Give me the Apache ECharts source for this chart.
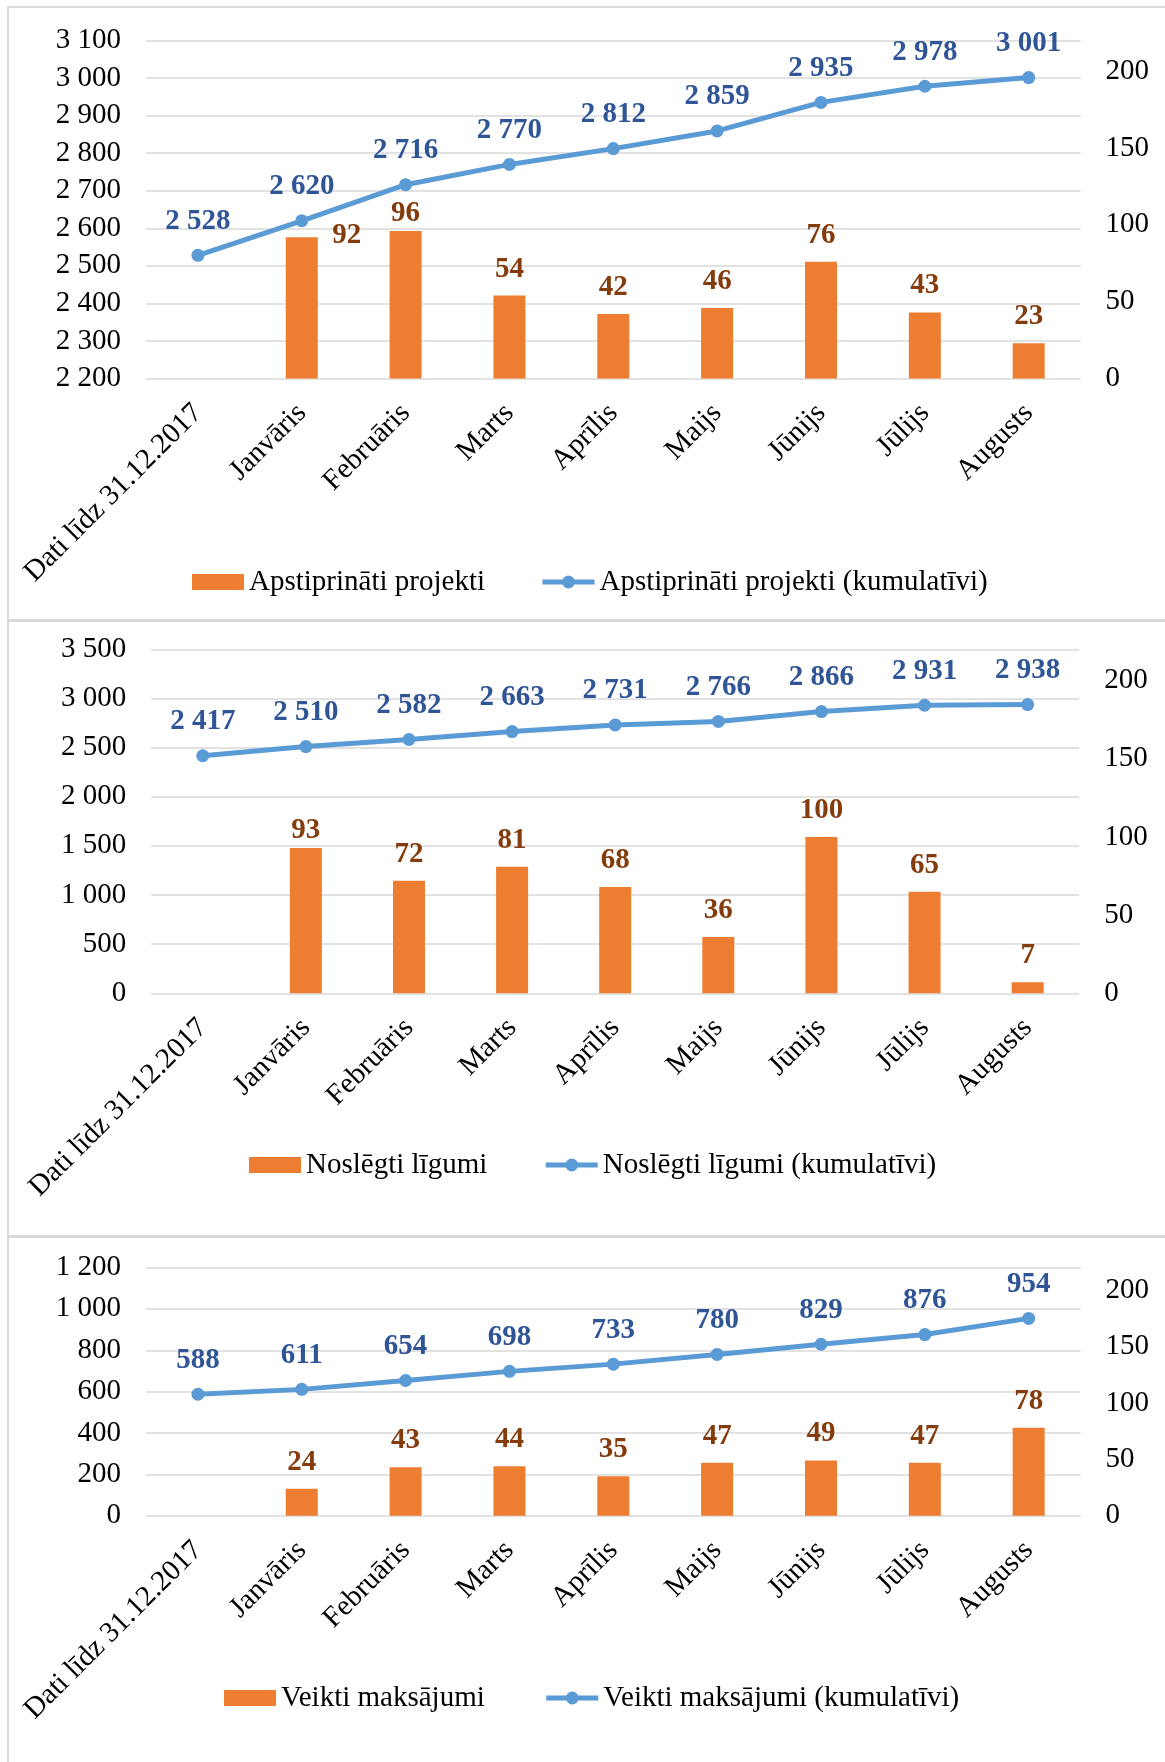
<!DOCTYPE html>
<html>
<head>
<meta charset="utf-8">
<title>Projekti, līgumi, maksājumi</title>
<script src="https://cdn.jsdelivr.net/npm/echarts@6/dist/echarts.min.js"></script>
<style>
  html, body { margin: 0; padding: 0; background: #fff; }
  .page { position: relative; width: 1165px; height: 1762px; overflow: hidden; }
  .frame { position: absolute; background: #d9d9d9; }
  .chart { position: absolute; left: 0; width: 1165px; }
</style>
</head>
<body>
<div class="page">
  <!-- panel frames -->
  <div class="frame" style="left:7px;top:6px;width:1158px;height:2px"></div>
  <div class="frame" style="left:7px;top:6px;width:2px;height:1756px"></div>
  <div class="frame" style="left:7px;top:619px;width:1158px;height:3px"></div>
  <div class="frame" style="left:7px;top:1235px;width:1158px;height:3px"></div>

  <div class="chart" id="chartProjects" style="top:0;height:619px"></div>
  <div class="chart" id="chartContracts" style="top:621px;height:614px"></div>
  <div class="chart" id="chartPayments" style="top:1237px;height:525px"></div>
</div>
<script>
// kategorijas
const categories = ['Dati līdz 31.12.2017', 'Janvāris', 'Februāris', 'Marts', 'Aprīlis', 'Maijs', 'Jūnijs', 'Jūlijs', 'Augusts'];

// apstiprināti projekti
const projectsMonthly = [null, 92, 96, 54, 42, 46, 76, 43, 23];
const projectsCumulative = [2528, 2620, 2716, 2770, 2812, 2859, 2935, 2978, 3001];
const projectsTicks = [2200, 3100, 100]; // min, max, step

// noslēgti līgumi
const contractsMonthly = [null, 93, 72, 81, 68, 36, 100, 65, 7];
const contractsCumulative = [2417, 2510, 2582, 2663, 2731, 2766, 2866, 2931, 2938];
const contractsTicks = [0, 3500, 500];

// veikti maksājumi
const paymentsMonthly = [null, 24, 43, 44, 35, 47, 49, 47, 78];
const paymentsCumulative = [588, 611, 654, 698, 733, 780, 829, 876, 954];
const paymentsTicks = [0, 1200, 200];

// labā ass (mēneša skaits)
const rightTicks = [0, 50, 100, 150, 200];
const rightMax = 220;

const FONT = '"Liberation Serif", "Times New Roman", serif';
const ORANGE = '#ed7d31';
const BLUE = '#5b9bd5';

function thousands(v) {
  return String(v).replace(/\B(?=(\d{3})+(?!\d))/g, ' ');
}

function buildOption(cfg) {
  const shifts = cfg.labelShift || {};
  return {
    animation: false,
    textStyle: { fontFamily: FONT },
    grid: {
      left: cfg.grid[0], top: cfg.grid[1], width: cfg.grid[2], height: cfg.grid[3],
      outerBoundsMode: 'none'
    },
    legend: {
      left: cfg.legend[0], top: cfg.legend[1], itemGap: cfg.legend[2],
      padding: 0,
      itemWidth: 52, itemHeight: 16,
      lineStyle: { width: 5 },
      textStyle: { fontSize: 29, color: '#000', fontFamily: FONT },
      data: [{ name: cfg.barName, icon: 'rect' }, { name: cfg.lineName }]
    },
    xAxis: {
      type: 'category',
      data: categories,
      axisLine: { show: false },
      axisTick: { show: false },
      axisLabel: { rotate: 45, interval: 0, margin: 30, color: '#000', fontSize: 29, fontFamily: FONT }
    },
    yAxis: [
      {
        type: 'value',
        min: cfg.ticks[0], max: cfg.ticks[1], interval: cfg.ticks[2],
        axisLine: { show: false }, axisTick: { show: false },
        axisLabel: { margin: 25, color: '#000', fontSize: 29, fontFamily: FONT, formatter: thousands },
        splitLine: { lineStyle: { color: '#d9d9d9', width: 1.5 } }
      },
      {
        type: 'value', position: 'right',
        min: 0, max: rightMax, interval: rightTicks[1] - rightTicks[0],
        axisLine: { show: false }, axisTick: { show: false },
        axisLabel: {
          margin: 25, color: '#000', fontSize: 29, fontFamily: FONT,
          formatter: function (v) { return rightTicks.indexOf(v) >= 0 ? String(v) : ''; }
        },
        splitLine: { show: false }
      }
    ],
    series: [
      {
        name: cfg.barName,
        type: 'bar',
        yAxisIndex: 1,
        barWidth: 32,
        data: cfg.monthly,
        itemStyle: { color: ORANGE },
        label: {
          show: true, position: 'top', distance: 12,
          color: '#843c0c', fontWeight: 'bold', fontSize: 29, fontFamily: FONT
        },
        // a few labels were nudged by hand in the original
        labelLayout: function (params) {
          const s = shifts[params.dataIndex];
          if (!s) return {};
          const r = params.labelRect;
          return {
            x: r.x + r.width / 2 + s[0],
            y: r.y + r.height / 2 + s[1],
            align: 'center',
            verticalAlign: 'middle'
          };
        }
      },
      {
        name: cfg.lineName,
        type: 'line',
        yAxisIndex: 0,
        data: cfg.cumulative,
        symbol: 'circle',
        symbolSize: 13,
        lineStyle: { color: BLUE, width: 5 },
        itemStyle: { color: BLUE },
        label: {
          show: true, position: 'top', distance: 13,
          color: '#2f5597', fontWeight: 'bold', fontSize: 29, fontFamily: FONT,
          formatter: function (p) { return thousands(p.value); }
        }
      }
    ]
  };
}

const projectsChart = echarts.init(document.getElementById('chartProjects'));
projectsChart.setOption(buildOption({
  barName: 'Apstiprināti projekti',
  lineName: 'Apstiprināti projekti (kumulatīvi)',
  monthly: projectsMonthly,
  cumulative: projectsCumulative,
  ticks: projectsTicks,
  grid: [146, 40.4, 934.6, 338.2],
  legend: [192, 567.5, 55],
  labelShift: { 1: [45, 25], 2: [0, 9] }
}));

const contractsChart = echarts.init(document.getElementById('chartContracts'));
contractsChart.setOption(buildOption({
  barName: 'Noslēgti līgumi',
  lineName: 'Noslēgti līgumi (kumulatīvi)',
  monthly: contractsMonthly,
  cumulative: contractsCumulative,
  ticks: contractsTicks,
  grid: [151.2, 28.3, 928, 344],
  legend: [249, 529.5, 56],
  labelShift: { 1: [0, 9] }
}));

const paymentsChart = echarts.init(document.getElementById('chartPayments'));
paymentsChart.setOption(buildOption({
  barName: 'Veikti maksājumi',
  lineName: 'Veikti maksājumi (kumulatīvi)',
  monthly: paymentsMonthly,
  cumulative: paymentsCumulative,
  ticks: paymentsTicks,
  grid: [146, 30.5, 934.6, 248.3],
  legend: [224, 446.5, 59]
}));
</script>
</body>
</html>
